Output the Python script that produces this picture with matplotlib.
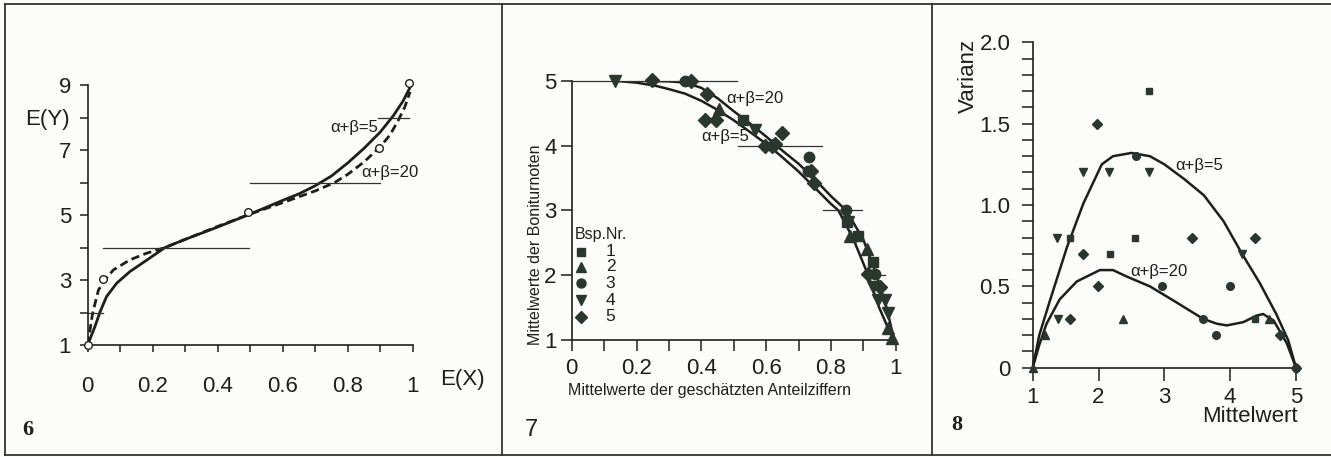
import matplotlib
matplotlib.use('Agg')
import matplotlib.pyplot as plt
from matplotlib.lines import Line2D

plt.rcParams['font.family'] = ['Liberation Sans', 'DejaVu Sans']

W, H = 1331, 457
INK = '#1e1e1e'
DOT = '#2b362d'
PAPER = '#fcfcfa'

# ---- panel 6: E(Y) vs E(X)
p6_solid_x = [0, 0.022, 0.038, 0.058, 0.089, 0.13, 0.18, 0.238, 0.3, 0.4, 0.5, 0.6, 0.65, 0.7, 0.75, 0.8, 0.85, 0.9, 0.94, 0.97, 0.993]
p6_solid_y = [1, 1.56, 2.02, 2.49, 2.9, 3.26, 3.6, 4.0, 4.25, 4.63, 5.03, 5.45, 5.65, 5.9, 6.2, 6.6, 7.05, 7.55, 8.05, 8.5, 8.95]
p6_dash_x = [0, 0.015, 0.033, 0.053, 0.079, 0.13, 0.18, 0.238, 0.3, 0.4, 0.5, 0.6, 0.7, 0.76, 0.8, 0.85, 0.9, 0.93, 0.956, 0.976, 0.992]
p6_dash_y = [1, 1.97, 2.69, 3.0, 3.31, 3.62, 3.82, 4.0, 4.25, 4.65, 5.03, 5.38, 5.74, 6.0, 6.25, 6.63, 7.1, 7.46, 7.92, 8.33, 8.79]
p6_open_x = [0, 0.046, 0.494, 0.896, 0.99]
p6_open_y = [1, 3.02, 5.08, 7.07, 9.07]
p6_step_y = [2, 4, 6, 8]
p6_step_x0 = [0, 0.048, 0.5, 0.894]
p6_step_x1 = [0.048, 0.495, 0.9, 0.99]

# ---- panel 7: Boniturnoten vs Anteilziffern
p7_c20_x = [0.13, 0.2, 0.3, 0.35, 0.4, 0.45, 0.5, 0.55, 0.6, 0.653, 0.7, 0.75, 0.8, 0.847, 0.9, 0.941, 0.972, 0.995]
p7_c20_y = [5.0, 5.0, 4.99, 4.97, 4.89, 4.73, 4.53, 4.34, 4.14, 3.91, 3.72, 3.48, 3.22, 3.0, 2.55, 2.0, 1.5, 1.0]
p7_c5_x = [0.13, 0.2, 0.26, 0.3, 0.35, 0.4, 0.45, 0.5, 0.55, 0.607, 0.65, 0.7, 0.75, 0.8, 0.823, 0.87, 0.915, 0.949, 0.975, 0.993]
p7_c5_y = [5.0, 4.97, 4.92, 4.87, 4.8, 4.69, 4.55, 4.39, 4.21, 4.0, 3.82, 3.6, 3.35, 3.1, 3.0, 2.55, 2.0, 1.5, 1.2, 1.0]
p7_step_y = [5, 4, 3, 2]
p7_step_x0 = [0, 0.513, 0.777, 0.897]
p7_step_x1 = [0.509, 0.772, 0.897, 0.967]
p7_pts = {
    '1': ([0.53, 0.851, 0.885, 0.929], [4.40, 2.82, 2.6, 2.21]),
    '2': ([0.456, 0.86, 0.91, 0.977, 0.99], [4.57, 2.6, 2.41, 1.18, 1.03]),
    '3': ([0.35, 0.733, 0.73, 0.846, 0.936], [5.0, 3.82, 3.61, 3.0, 2.02]),
    '4': ([0.134, 0.566, 0.854, 0.931, 0.946, 0.967, 0.977], [4.99, 4.24, 2.82, 1.81, 1.62, 1.62, 1.41]),
    '5': ([0.247, 0.367, 0.417, 0.41, 0.444, 0.648, 0.597, 0.617, 0.627, 0.749, 0.916, 0.952, 0.74],
          [5.01, 5.0, 4.80, 4.4, 4.4, 4.2, 4.0, 4.0, 4.02, 3.42, 2.02, 1.81, 3.6]),
}

# ---- panel 8: Varianz vs Mittelwert
p8_c5_x = [1.0, 1.1, 1.26, 1.52, 1.77, 2.05, 2.22, 2.5, 2.78, 3.0, 3.3, 3.6, 3.9, 4.18, 4.45, 4.7, 4.88, 5.0]
p8_c5_y = [0.0, 0.2, 0.41, 0.74, 1.01, 1.25, 1.30, 1.32, 1.30, 1.25, 1.16, 1.06, 0.9, 0.70, 0.52, 0.33, 0.17, 0.0]
p8_c20_x = [1.0, 1.1, 1.21, 1.41, 1.67, 2.02, 2.22, 2.43, 2.78, 3.19, 3.59, 3.8, 3.95, 4.2, 4.4, 4.5, 4.66, 4.86, 5.0]
p8_c20_y = [0.0, 0.14, 0.27, 0.42, 0.53, 0.60, 0.60, 0.56, 0.50, 0.40, 0.30, 0.27, 0.26, 0.28, 0.32, 0.33, 0.29, 0.15, 0.0]
p8_pts = {
    '1': ([2.76, 1.57, 2.55, 2.17, 4.38], [1.7, 0.8, 0.8, 0.7, 0.3]),
    '2': ([1.0, 1.19, 2.37, 4.59], [0.0, 0.2, 0.3, 0.3]),
    '3': ([2.57, 2.97, 3.99, 3.59, 3.79, 5.0], [1.3, 0.5, 0.5, 0.3, 0.2, 0.0]),
    '4': ([1.76, 2.16, 2.77, 1.37, 4.18, 1.39], [1.2, 1.2, 1.2, 0.8, 0.7, 0.3]),
    '5': ([1.97, 3.42, 4.37, 1.77, 1.99, 1.57, 4.76, 5.0], [1.5, 0.8, 0.8, 0.7, 0.5, 0.3, 0.2, 0.0]),
}

markers = {'1': 's', '2': '^', '3': 'o', '4': 'v', '5': 'D'}
msizes = {'1': 6, '2': 7, '3': 6.5, '4': 7, '5': 6.5}

fig = plt.figure(figsize=(W / 100, H / 100), dpi=100, facecolor=PAPER)


def px_axes(x0, x1, ytop, ybot):
    ax = fig.add_axes([x0 / W, 1 - ybot / H, (x1 - x0) / W, (ybot - ytop) / H])
    ax.set_facecolor('none')
    for s in ['top', 'right']:
        ax.spines[s].set_visible(False)
    for s in ['left', 'bottom']:
        ax.spines[s].set_linewidth(1.2)
        ax.spines[s].set_color(INK)
    ax.tick_params(which='both', direction='out', color=INK, width=1.1, labelcolor=INK)
    return ax


# frame lines
for (x0, y0, x1, y1) in [(5, 4, 1331, 4), (5, 455, 1331, 455), (5, 4, 5, 455), (502, 4, 502, 455), (932, 4, 932, 455)]:
    fig.add_artist(Line2D([x0 / W, x1 / W], [1 - y0 / H, 1 - y1 / H], color='#333333', lw=1.3))

# ---- panel 6
ax6 = px_axes(87.7, 412.7, 85, 345)
ax6.set_xlim(0, 1)
ax6.set_ylim(1, 9)
ax6.plot(p6_solid_x, p6_solid_y, color=INK, lw=2.0, solid_capstyle='round')
ax6.plot(p6_dash_x, p6_dash_y, color=INK, lw=2.0, ls=(0, (3, 1.6)))
for y, a, b in zip(p6_step_y, p6_step_x0, p6_step_x1):
    ax6.plot([a, b], [y, y], color='#333333', lw=0.9)
ax6.plot(p6_open_x, p6_open_y, 'o', ms=5.5, mfc='white', mec=INK, mew=1.0, clip_on=False, zorder=5)
ax6.set_xticks([0, 0.2, 0.4, 0.6, 0.8, 1.0], ['0', '0.2', '0.4', '0.6', '0.8', '1'])
ax6.set_xticks([0.1, 0.3, 0.5, 0.7, 0.9], minor=True)
ax6.set_yticks([1, 3, 5, 7, 9], ['1', '3', '5', '7', '9'])
ax6.set_yticks([2, 4, 6, 8], minor=True)
ax6.tick_params(axis='x', which='both', length=5, pad=17, labelsize=16)
ax6.tick_params(axis='y', which='both', length=6, pad=6, labelsize=16)
ax6.text(0.746, 7.68, 'α+β=5', fontsize=12, va='center', ha='left', color=INK)
ax6.text(0.843, 6.30, 'α+β=20', fontsize=12, va='center', ha='left', color=INK)
fig.text(47 / W, 1 - 120 / H, 'E(Y)', fontsize=16, ha='center', va='center', color=INK)
fig.text(462 / W, 1 - 380 / H, 'E(X)', fontsize=16, ha='center', va='center', color=INK)
fig.text(28 / W, 1 - 430 / H, '6', fontsize=16, fontweight='bold', family='Liberation Serif',
         ha='center', va='center', color=INK)

# ---- panel 7
ax7 = px_axes(571.7, 895.7, 80.7, 340)
ax7.set_xlim(0, 1)
ax7.set_ylim(1, 5)
ax7.plot(p7_c20_x, p7_c20_y, color=INK, lw=1.8)
ax7.plot(p7_c5_x, p7_c5_y, color=INK, lw=1.8)
for y, a, b in zip(p7_step_y, p7_step_x0, p7_step_x1):
    ax7.plot([a, b], [y, y], color='#333333', lw=0.9, clip_on=False)
for k, (xs, ys) in p7_pts.items():
    ax7.plot(xs, ys, ls='none', marker=markers[k], ms=msizes[k] + 1, color=DOT, clip_on=False, zorder=4)
ax7.set_xticks([0, 0.2, 0.4, 0.6, 0.8, 1.0], ['0', '0.2', '0.4', '0.6', '0.8', '1'])
ax7.set_xticks([0.1, 0.3, 0.5, 0.7, 0.9], minor=True)
ax7.set_yticks([1, 2, 3, 4, 5])
ax7.tick_params(axis='x', which='both', length=8, pad=5, labelsize=16)
ax7.tick_params(axis='y', which='both', length=8, pad=3, labelsize=16)
ax7.text(0.478, 4.73, 'α+β=20', fontsize=12, va='center', ha='left', color=INK)
ax7.text(0.40, 4.14, 'α+β=5', fontsize=12, va='center', ha='left', color=INK)
ax7.text(0.01, 0.405, 'Bsp.Nr.', transform=ax7.transAxes, fontsize=11.5, va='center', ha='left', color=INK)
leg_y = [0.341, 0.283, 0.219, 0.154, 0.090]
for k, ly in zip(markers, leg_y):
    ax7.plot([0.029], [ly], transform=ax7.transAxes, marker=markers[k], ms=msizes[k], color=DOT, ls='none', clip_on=False)
    ax7.text(0.12, ly, k, transform=ax7.transAxes, fontsize=12.5, va='center', ha='center', color=INK)
fig.text(535 / W, 1 - 245 / H, 'Mittelwerte der Boniturnoten', rotation=90, fontsize=11.5,
         ha='center', va='center', color=INK)
fig.text(710 / W, 1 - 390 / H, 'Mittelwerte der geschätzten Anteilziffern', fontsize=11.5,
         ha='center', va='center', color=INK)
fig.text(531 / W, 1 - 430 / H, '7', fontsize=17, ha='center', va='center', color=INK)

# ---- panel 8
ax8 = px_axes(1032.7, 1296, 42.3, 367.7)
ax8.set_xlim(1, 5)
ax8.set_ylim(0, 2)
ax8.plot(p8_c5_x, p8_c5_y, color=INK, lw=1.8, clip_on=False)
ax8.plot(p8_c20_x, p8_c20_y, color=INK, lw=1.8, clip_on=False)
for k, (xs, ys) in p8_pts.items():
    ax8.plot(xs, ys, ls='none', marker=markers[k], ms=msizes[k] - 1, color=DOT, clip_on=False, zorder=4)
ax8.set_xticks([1, 2, 3, 4, 5])
ax8.set_yticks([0, 0.5, 1.0, 1.5, 2.0], ['0', '0.5', '1.0', '1.5', '2.0'])
ax8.set_yticks([0.1, 0.2, 0.3, 0.4, 0.6, 0.7, 0.8, 0.9, 1.1, 1.2, 1.3, 1.4, 1.6, 1.7, 1.8, 1.9], minor=True)
ax8.tick_params(axis='x', which='both', length=9, pad=5, labelsize=16)
ax8.tick_params(axis='y', which='both', length=8, pad=8, labelsize=16)
ax8.text(3.17, 1.24, 'α+β=5', fontsize=12, va='center', ha='left', color=INK)
ax8.text(2.48, 0.59, 'α+β=20', fontsize=12, va='center', ha='left', color=INK)
fig.text(968 / W, 1 - 76 / H, 'Varianz', rotation=90, fontsize=16, ha='center', va='center', color=INK)
fig.text(1298 / W, 1 - 417 / H, 'Mittelwert', fontsize=16, ha='right', va='center', color=INK)
fig.text(957 / W, 1 - 425 / H, '8', fontsize=16, fontweight='bold', family='Liberation Serif',
         ha='center', va='center', color=INK)

fig.savefig('out.png', dpi=100, facecolor=PAPER)
